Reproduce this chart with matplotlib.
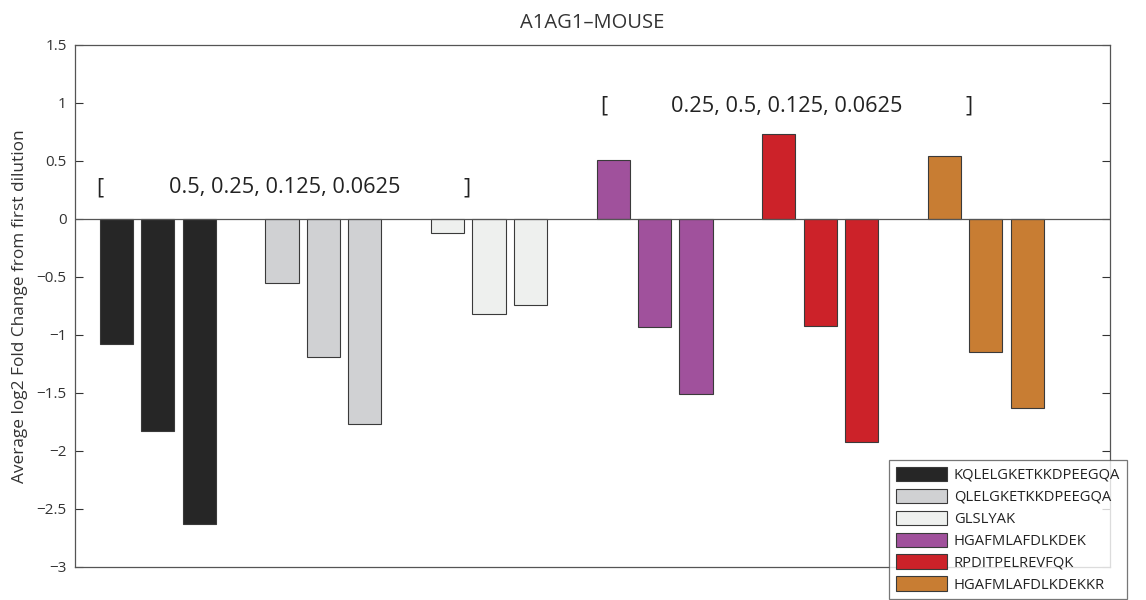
import numpy as np
import matplotlib.pyplot as plt
from matplotlib.patches import Patch

plt.rcParams["font.family"] = ["Open Sans", "DejaVu Sans"]

# peptides and their log2 fold change (three later dilutions vs the first)
peptides = ["KQLELGKETKKDPEEGQA", "QLELGKETKKDPEEGQA", "GLSLYAK",
            "HGAFMLAFDLKDEK", "RPDITPELREVFQK", "HGAFMLAFDLKDEKKR"]
fold_change = [
    [-1.08, -1.83, -2.63],
    [-0.55, -1.19, -1.77],
    [-0.12, -0.82, -0.74],
    [0.51, -0.93, -1.51],
    [0.73, -0.92, -1.92],
    [0.545, -1.15, -1.63],
]
colors = ["#262626", "#d0d1d3", "#eef0ee", "#a0519c", "#cc2229", "#c87d33"]
dilution_labels = ["0.5, 0.25, 0.125, 0.0625", "0.25, 0.5, 0.125, 0.0625"]

fig = plt.figure(figsize=(11.46, 6), dpi=100)
ax = fig.add_axes([0.0654, 0.055, 0.9032, 0.87])

for k, vals in enumerate(fold_change):
    pos = 4 * k + 1 + np.arange(len(vals))
    ax.bar(pos, vals, width=0.8, color=colors[k], edgecolor="#3a3a3a",
           linewidth=0.8, zorder=2)

ax.axhline(0, color="#555555", linewidth=0.9, zorder=3)
ax.set_xlim(0, 25)
ax.set_ylim(-3, 1.5)
ax.set_xticks([])
ax.set_yticks(np.arange(-3, 1.51, 0.5))
ax.set_yticklabels(["\u22123", "\u22122.5", "\u22122", "\u22121.5", "\u22121",
                    "\u22120.5", "0", "0.5", "1", "1.5"])
ax.tick_params(axis="y", direction="in", length=6, width=0.8, right=True,
               labelsize=11, colors="#333333", pad=6)
for s in ax.spines.values():
    s.set_color("#555555")
    s.set_linewidth(0.9)

ax.set_ylabel("Average log2 Fold Change from first dilution", fontsize=12.4,
              color="#333333", labelpad=6)
ax.set_title("A1AG1\u2013MOUSE", fontsize=14.5, color="#333333", pad=12)

# dilution brackets
txt = dict(fontsize=15.7, color="#222222", va="center")
ax.text(0.6, 0.27, "[", ha="center", **txt)
ax.text(5.07, 0.27, dilution_labels[0], ha="center", **txt)
ax.text(9.47, 0.27, "]", ha="center", **txt)
ax.text(12.78, 0.97, "[", ha="center", **txt)
ax.text(17.2, 0.97, dilution_labels[1], ha="center", **txt)
ax.text(21.6, 0.97, "]", ha="center", **txt)

handles = [Patch(facecolor=c, edgecolor="#3a3a3a", linewidth=0.8) for c in colors]
leg = fig.legend(handles, peptides, loc="upper left",
                 bbox_to_anchor=(889 / 1146, 1 - 460 / 600), fontsize=10.6,
                 frameon=True, fancybox=False, edgecolor="#555555",
                 handlelength=3.5, handleheight=1.1, labelspacing=0.4,
                 borderpad=0.45, handletextpad=0.45, borderaxespad=0)
leg.get_frame().set_linewidth(0.9)
for t in leg.get_texts():
    t.set_color("#222222")

fig.savefig("out.png", dpi=100)
